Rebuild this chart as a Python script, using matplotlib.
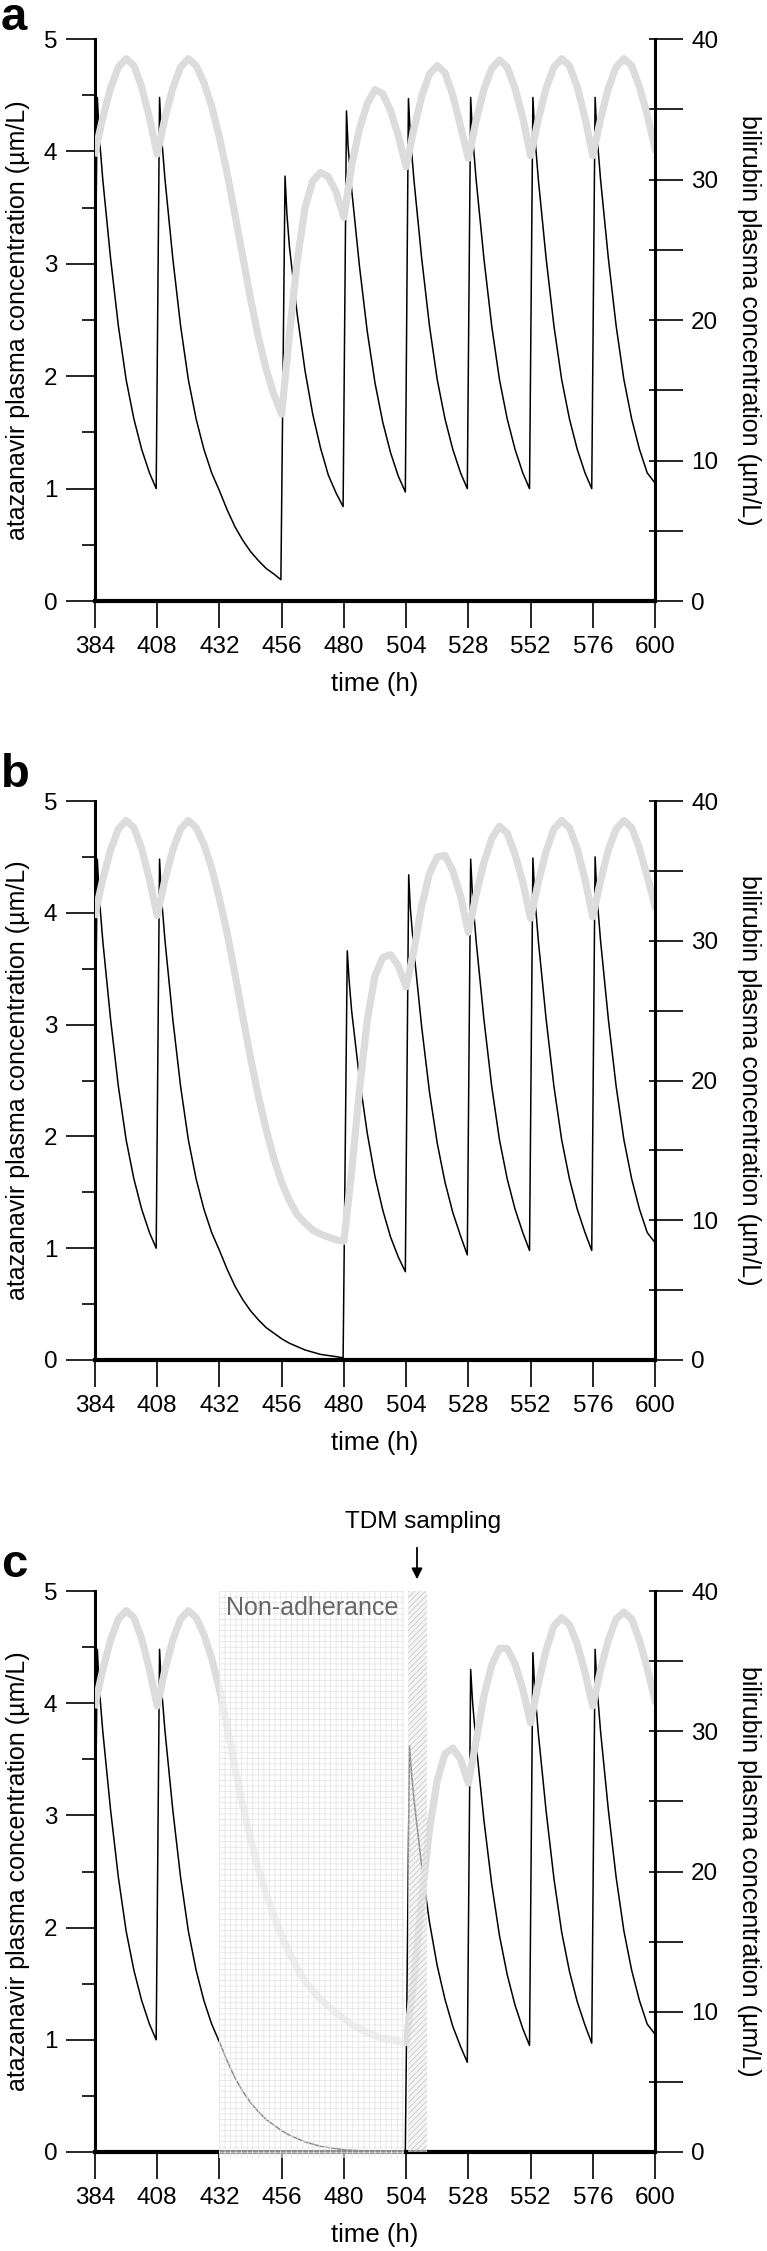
import matplotlib.pyplot as plt
from matplotlib.patches import Rectangle
from matplotlib.ticker import MultipleLocator

plt.rcParams["font.family"] = ["Liberation Sans", "DejaVu Sans"]
plt.rcParams["hatch.linewidth"] = 0.5

# bilirubin is read on a 3 h grid (384 ... 600 h)
bili_hours = list(range(384, 601, 3))

# atazanavir, panel a (dose at 432 h missed)
atv_t_a = [384.0, 384.9, 385.6, 387, 390, 393, 396, 399, 402, 405, 407.6,
           408.9, 409.6, 411, 414, 417, 420, 423, 426, 429, 432, 435, 438, 441, 444, 447, 450, 453, 455.7,
           457.3, 458.0, 459, 462, 465, 468, 471, 474, 477, 479.7,
           481.0, 481.6, 483, 486, 489, 492, 495, 498, 501, 503.7,
           504.9, 505.6, 507, 510, 513, 516, 519, 522, 525, 527.6,
           528.9, 529.6, 531, 534, 537, 540, 543, 546, 549, 551.6,
           552.9, 553.6, 555, 558, 561, 564, 567, 570, 573, 575.6,
           576.9, 577.6, 579, 582, 585, 588, 591, 594, 597, 600]
atv_c_a = [2.6, 4.48, 4.15, 3.75, 3.05, 2.45, 1.97, 1.62, 1.35, 1.14, 1.00,
           4.48, 4.15, 3.75, 3.05, 2.45, 1.97, 1.62, 1.35, 1.14, 0.98, 0.81, 0.66, 0.54, 0.44, 0.36, 0.29, 0.24, 0.19,
           3.78, 3.45, 3.15, 2.55, 2.05, 1.66, 1.36, 1.12, 0.96, 0.84,
           4.36, 4.05, 3.66, 2.98, 2.40, 1.94, 1.59, 1.32, 1.11, 0.97,
           4.47, 4.15, 3.75, 3.05, 2.45, 1.97, 1.62, 1.35, 1.14, 1.00,
           4.48, 4.15, 3.75, 3.05, 2.45, 1.97, 1.62, 1.35, 1.14, 1.00,
           4.48, 4.15, 3.75, 3.05, 2.45, 1.97, 1.62, 1.35, 1.14, 1.00,
           4.48, 4.15, 3.75, 3.05, 2.45, 1.97, 1.62, 1.35, 1.14, 1.05]
bili_a = [31.9, 34.4, 36.5, 38.0, 38.6, 38.1, 36.6, 34.4, 31.8, 34.4, 36.5, 38.0, 38.6,
          38.1, 36.9, 35.2, 33.0, 30.4, 27.5, 24.5, 21.5, 18.8, 16.5, 14.7, 13.3,
          19.0, 24.2, 28.0, 29.9, 30.5, 30.2, 29.1, 27.3,
          31.0, 33.6, 35.4, 36.4, 36.1, 34.9, 33.1, 30.9,
          33.6, 35.9, 37.5, 38.1, 37.6, 36.0, 33.8, 31.5,
          34.2, 36.4, 37.9, 38.5, 38.0, 36.5, 34.4, 31.7,
          34.3, 36.5, 38.0, 38.6, 38.1, 36.6, 34.4, 31.7,
          34.3, 36.5, 38.0, 38.6, 38.1, 36.6, 34.6, 32.2]

# panel b (doses at 432 and 456 h missed)
atv_t_b = [384.0, 384.9, 385.6, 387, 390, 393, 396, 399, 402, 405, 407.6,
           408.9, 409.6, 411, 414, 417, 420, 423, 426, 429, 432, 435, 438, 441, 444, 447, 450, 453,
           456, 459, 462, 465, 468, 471, 474, 477, 479.7,
           481.3, 482.0, 483, 486, 489, 492, 495, 498, 501, 503.7,
           505.0, 505.6, 507, 510, 513, 516, 519, 522, 525, 527.6,
           528.9, 529.6, 531, 534, 537, 540, 543, 546, 549, 551.6,
           552.9, 553.6, 555, 558, 561, 564, 567, 570, 573, 575.6,
           576.9, 577.6, 579, 582, 585, 588, 591, 594, 597, 600]
atv_c_b = [2.6, 4.48, 4.15, 3.75, 3.05, 2.45, 1.97, 1.62, 1.35, 1.14, 1.00,
           4.48, 4.15, 3.75, 3.05, 2.45, 1.97, 1.62, 1.35, 1.14, 0.98, 0.81, 0.66, 0.54, 0.44, 0.36, 0.29, 0.24,
           0.19, 0.15, 0.12, 0.09, 0.07, 0.05, 0.04, 0.03, 0.02,
           3.66, 3.40, 3.12, 2.52, 2.03, 1.64, 1.34, 1.10, 0.92, 0.79,
           4.34, 4.05, 3.66, 2.98, 2.40, 1.94, 1.59, 1.32, 1.11, 0.94,
           4.48, 4.15, 3.75, 3.05, 2.45, 1.97, 1.62, 1.35, 1.14, 0.98,
           4.49, 4.15, 3.75, 3.05, 2.45, 1.97, 1.62, 1.35, 1.14, 0.98,
           4.50, 4.15, 3.75, 3.05, 2.45, 1.97, 1.62, 1.35, 1.14, 1.05]
bili_b = [31.9, 34.4, 36.5, 38.0, 38.6, 38.1, 36.6, 34.4, 31.8, 34.4, 36.5, 38.0, 38.6,
          38.1, 36.9, 35.2, 33.0, 30.5, 27.6, 24.6, 21.6, 18.9, 16.5, 14.4, 12.7,
          11.4, 10.4, 9.8, 9.3, 9.0, 8.8, 8.6, 8.5,
          13.5, 19.3, 24.3, 27.5, 28.8, 29.0, 28.2, 26.7,
          29.3, 32.5, 34.8, 36.0, 36.1, 35.0, 33.2, 30.6,
          33.3, 35.6, 37.3, 38.2, 37.7, 36.2, 34.2, 31.6,
          34.2, 36.4, 38.0, 38.6, 38.1, 36.6, 34.4, 31.7,
          34.3, 36.5, 38.0, 38.6, 38.1, 36.6, 34.6, 32.5]

# panel c (doses at 432, 456 and 480 h missed)
atv_t_c = [384.0, 384.9, 385.6, 387, 390, 393, 396, 399, 402, 405, 407.6,
           408.9, 409.6, 411, 414, 417, 420, 423, 426, 429, 432, 435, 438, 441, 444, 447, 450, 453,
           456, 459, 462, 465, 468, 471, 474, 477, 480, 483, 486, 489, 492, 495, 498, 501, 503.7,
           505.3, 506.0, 507, 510, 513, 516, 519, 522, 525, 527.6,
           528.9, 529.6, 531, 534, 537, 540, 543, 546, 549, 551.6,
           552.9, 553.6, 555, 558, 561, 564, 567, 570, 573, 575.6,
           576.9, 577.6, 579, 582, 585, 588, 591, 594, 597, 600]
atv_c_c = [2.6, 4.48, 4.15, 3.75, 3.05, 2.45, 1.97, 1.62, 1.35, 1.14, 1.00,
           4.48, 4.15, 3.75, 3.05, 2.45, 1.97, 1.62, 1.35, 1.14, 0.98, 0.81, 0.66, 0.54, 0.44, 0.36, 0.29, 0.24,
           0.19, 0.15, 0.12, 0.09, 0.07, 0.05, 0.04, 0.03, 0.02, 0.015, 0.012, 0.009, 0.007, 0.005, 0.004, 0.003, 0.002,
           3.62, 3.40, 3.15, 2.55, 2.05, 1.66, 1.36, 1.12, 0.94, 0.80,
           4.30, 4.02, 3.64, 2.96, 2.39, 1.93, 1.58, 1.31, 1.10, 0.95,
           4.45, 4.13, 3.73, 3.04, 2.44, 1.96, 1.61, 1.34, 1.13, 0.97,
           4.48, 4.15, 3.75, 3.05, 2.45, 1.97, 1.62, 1.35, 1.14, 1.05]
bili_c = [31.9, 34.4, 36.5, 38.0, 38.6, 38.1, 36.6, 34.4, 31.8, 34.4, 36.5, 38.0, 38.6,
          38.1, 36.9, 35.2, 33.0, 30.3, 27.4, 24.7, 22.3, 20.2, 18.4, 16.8, 15.4,
          14.2, 13.1, 12.2, 11.5, 10.9, 10.4, 9.9, 9.5,
          9.1, 8.8, 8.5, 8.3, 8.1, 8.0, 7.9, 7.8,
          12.2, 18.0, 23.0, 26.5, 28.4, 28.8, 28.0, 26.3,
          29.3, 32.5, 34.7, 35.9, 35.9, 34.8, 33.0, 30.6,
          33.4, 35.8, 37.5, 38.1, 37.6, 36.2, 34.2, 31.8,
          34.4, 36.5, 38.0, 38.5, 38.0, 36.5, 34.5, 32.2]

time_ticks = list(range(384, 601, 24))
non_adherence = (432, 503.3)
tdm_window = (504.9, 512.0)

W, H = 767, 2251
fig = plt.figure(figsize=(W / 100, H / 100), dpi=100)


def make_panel(top, bottom, atv_t, atv_c, bili, letter, letter_base):
    ax = fig.add_axes([95 / W, 1 - bottom / H, 560 / W, (bottom - top) / H])
    ax.plot(atv_t, atv_c, color="black", lw=1.1)
    ax.set_xlim(384, 600)
    ax.set_ylim(0, 5)
    ax.set_xticks(time_ticks)
    ax.yaxis.set_major_locator(MultipleLocator(1))
    ax.yaxis.set_minor_locator(MultipleLocator(0.5))
    ax.spines["top"].set_visible(False)
    ax.spines["right"].set_visible(False)
    ax.spines["left"].set_linewidth(2.2)
    ax.spines["bottom"].set_linewidth(3.0)
    ax.tick_params(axis="x", length=19.5, width=1.2, pad=6, labelsize=17.5)
    ax.tick_params(axis="y", which="major", length=21, width=1.2, pad=6, labelsize=17.5)
    ax.tick_params(axis="y", which="minor", length=9.5, width=1.2)
    ax.set_xlabel("time (h)", fontsize=18.5)
    ax.xaxis.label.set(va="center")
    ax.xaxis.set_label_coords(0.5, -0.148)
    ax.set_ylabel("atazanavir plasma concentration (µm/L)", fontsize=18)
    ax.yaxis.label.set(va="center", ha="center", rotation_mode="default")
    ax.yaxis.set_label_coords(-0.1375, 0.5)

    ax2 = ax.twinx()
    ax2.plot(bili_hours, bili, color="#dcdcdc", lw=5.2, solid_joinstyle="round")
    ax2.set_ylim(0, 40)
    ax2.yaxis.set_major_locator(MultipleLocator(10))
    ax2.yaxis.set_minor_locator(MultipleLocator(5))
    for side in ["top", "left", "bottom"]:
        ax2.spines[side].set_visible(False)
    ax2.spines["right"].set_linewidth(2.2)
    ax2.tick_params(axis="y", which="major", length=20, width=1.2, pad=6, labelsize=17.5)
    ax2.tick_params(axis="y", which="minor", length=20, width=1.2)
    ax2.set_ylabel("bilirubin plasma concentration (µm/L)", fontsize=18, rotation=270)
    ax2.yaxis.label.set(va="center", ha="center", rotation_mode="default")
    ax2.yaxis.set_label_coords(1.168, 0.5)

    # short inward ticks on the right spine
    sec = ax2.secondary_yaxis("right")
    sec.set_yticks(range(0, 41, 5))
    sec.tick_params(direction="in", length=4, width=1.2, labelright=False)
    sec.spines["right"].set_visible(False)

    fig.text(1 / W, 1 - letter_base / H, letter, fontsize=34, fontweight="bold",
             ha="left", va="baseline")
    return ax, ax2


make_panel(39, 601, atv_t_a, atv_c_a, bili_a, "a", 30)
make_panel(801, 1360, atv_t_b, atv_c_b, bili_b, "b", 787)
ax_c, ax2_c = make_panel(1591, 2152, atv_t_c, atv_c_c, bili_c, "c", 1577)

# shaded windows drawn over the curves
ax2_c.add_patch(Rectangle((non_adherence[0], -0.4), non_adherence[1] - non_adherence[0], 40.4,
                          facecolor=(1, 1, 1, 0.55), edgecolor="#e2e2e2", hatch="+++",
                          linewidth=0, zorder=10, clip_on=False))
ax2_c.add_patch(Rectangle((tdm_window[0], 0), tdm_window[1] - tdm_window[0], 40,
                          facecolor=(0.93, 0.93, 0.93, 0.6), edgecolor="#c4c4c4", hatch="//////",
                          linewidth=0, zorder=10))
ax2_c.text(434.5, 0.957, "Non-adherance", transform=ax2_c.get_xaxis_transform(),
           fontsize=18, color="#666666", ha="left", va="baseline", zorder=11)
ax2_c.annotate("", xy=(508.2, 1.016), xytext=(508.2, 1.082),
               xycoords=ax2_c.get_xaxis_transform(), textcoords=ax2_c.get_xaxis_transform(),
               arrowprops=dict(arrowstyle="-|>", color="black", lw=1.3, mutation_scale=16),
               annotation_clip=False)
ax2_c.text(510.5, 1.123, "TDM sampling", transform=ax2_c.get_xaxis_transform(),
           fontsize=17.5, ha="center", va="center")

fig.savefig("out.png", dpi=100)
